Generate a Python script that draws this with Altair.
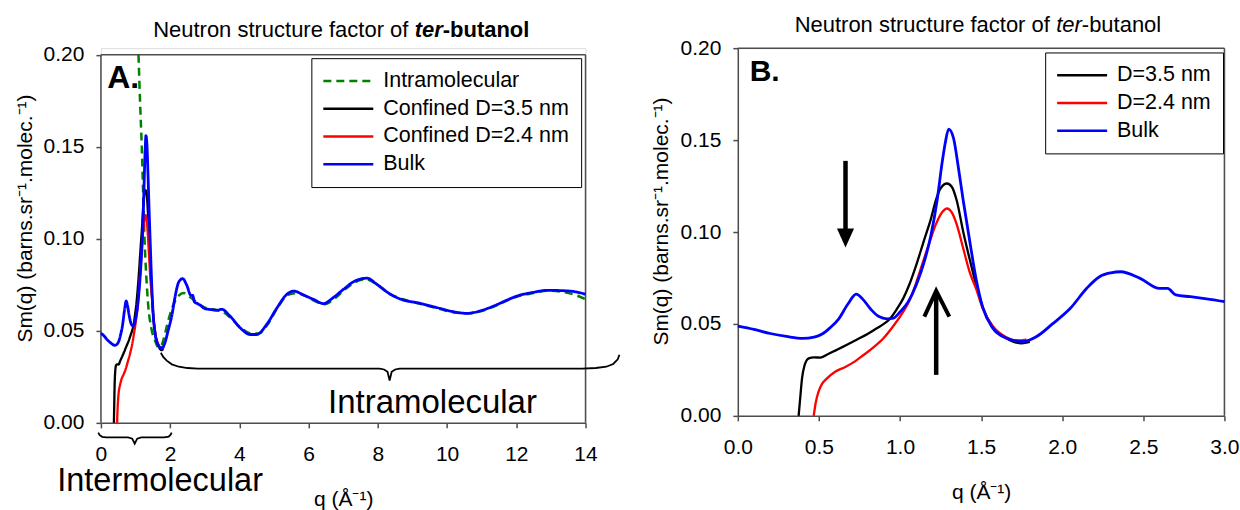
import altair as alt
import pandas as pd

FONT = "Liberation Sans"
AX = "#4d4d4d"

# ---------------- data (q in 1/Angstrom, Sm(q)) ----------------
bulk = [(0.00, 0.0488), (0.10, 0.0470), (0.20, 0.0448), (0.30, 0.0432), (0.40, 0.0421),
        (0.47, 0.0428), (0.52, 0.0445), (0.57, 0.0480), (0.62, 0.0525), (0.68, 0.0610),
        (0.73, 0.0662), (0.77, 0.0635), (0.82, 0.0580), (0.87, 0.0540), (0.92, 0.0528),
        (0.96, 0.0532), (1.00, 0.0565), (1.05, 0.0620), (1.10, 0.0712), (1.15, 0.0840),
        (1.19, 0.0980), (1.23, 0.1180), (1.26, 0.1380), (1.28, 0.1490), (1.30, 0.1560),
        (1.33, 0.1510), (1.36, 0.1350), (1.39, 0.1170), (1.43, 0.0950), (1.47, 0.0740),
        (1.51, 0.0590), (1.57, 0.0480), (1.65, 0.0425), (1.76, 0.0404), (1.84, 0.0430),
        (1.94, 0.0500), (2.05, 0.0585), (2.15, 0.0693), (2.23, 0.0757), (2.30, 0.0778),
        (2.36, 0.0784), (2.48, 0.0748), (2.60, 0.0693), (2.65, 0.0693), (2.70, 0.0658),
        (2.79, 0.0648), (2.89, 0.0636), (3.00, 0.0621), (3.20, 0.0615), (3.35, 0.0611),
        (3.49, 0.0617), (3.73, 0.0580), (4.02, 0.0517), (4.31, 0.0480), (4.50, 0.0480),
        (4.79, 0.0535), (5.09, 0.0626), (5.37, 0.0698), (5.58, 0.0716), (5.85, 0.0695),
        (6.14, 0.0671), (6.43, 0.0648), (6.71, 0.0680), (7.01, 0.0726), (7.34, 0.0771),
        (7.69, 0.0786), (7.97, 0.0753), (8.36, 0.0699), (8.74, 0.0667), (9.13, 0.0653),
        (9.80, 0.0622), (10.18, 0.0604), (10.58, 0.0595), (10.95, 0.0608), (11.35, 0.0635),
        (11.72, 0.0666), (12.02, 0.0689), (12.49, 0.0709), (12.89, 0.0720), (13.47, 0.0717),
        (13.74, 0.0711), (14.00, 0.0699)]

intra = [(1.085, 0.200), (1.13, 0.175), (1.18, 0.150), (1.22, 0.125), (1.26, 0.100),
         (1.31, 0.080), (1.37, 0.063), (1.45, 0.052), (1.57, 0.0444), (1.66, 0.0410),
         (1.74, 0.0418), (1.82, 0.0460), (1.91, 0.0530), (2.05, 0.0620), (2.24, 0.0690),
         (2.40, 0.0705), (2.60, 0.0680), (2.80, 0.0650), (3.06, 0.0622), (3.35, 0.0614),
         (3.55, 0.0600), (3.80, 0.0560), (4.05, 0.0515), (4.35, 0.0485), (4.55, 0.0485),
         (4.80, 0.0530), (5.10, 0.0625), (5.40, 0.0695), (5.65, 0.0705), (5.90, 0.0690),
         (6.20, 0.0660), (6.45, 0.0645), (6.75, 0.0675), (7.05, 0.0725), (7.35, 0.0765),
         (7.65, 0.0780), (7.95, 0.0755), (8.35, 0.0700), (8.75, 0.0670), (9.15, 0.0650),
         (9.80, 0.0618), (10.20, 0.0600), (10.60, 0.0595), (10.95, 0.0605), (11.35, 0.0632),
         (11.70, 0.0662), (12.00, 0.0685), (12.50, 0.0705), (12.90, 0.0718), (13.40, 0.0710),
         (13.70, 0.0695), (14.00, 0.0672)]

conf35 = [(0.375, 0.000), (0.385, 0.010), (0.396, 0.0204), (0.41, 0.027), (0.437, 0.0313),
          (0.47, 0.0318), (0.51, 0.0317), (0.56, 0.0338), (0.61, 0.0359), (0.67, 0.0385),
          (0.73, 0.0413), (0.80, 0.0445), (0.86, 0.0478), (0.90, 0.0500), (0.94, 0.0530),
          (0.98, 0.0580), (1.02, 0.0639), (1.06, 0.0720), (1.10, 0.0820), (1.15, 0.0960),
          (1.19, 0.1070), (1.22, 0.1170), (1.25, 0.1237), (1.29, 0.1264), (1.32, 0.1245),
          (1.35, 0.1170), (1.39, 0.1000), (1.43, 0.0850), (1.47, 0.0710), (1.51, 0.0590),
          (1.57, 0.0485), (1.65, 0.0425), (1.75, 0.0395), (1.80, 0.0402)]

conf24 = [(0.468, 0.000), (0.48, 0.007), (0.498, 0.0132), (0.52, 0.0175), (0.55, 0.0204),
          (0.60, 0.0240), (0.66, 0.0265), (0.72, 0.0295), (0.775, 0.0331), (0.84, 0.0375),
          (0.898, 0.0422), (0.96, 0.0490), (1.02, 0.0567), (1.06, 0.0630), (1.10, 0.0725),
          (1.15, 0.0860), (1.19, 0.0965), (1.22, 0.1040), (1.25, 0.1095), (1.29, 0.1128),
          (1.32, 0.1105), (1.35, 0.1040), (1.39, 0.0910), (1.43, 0.0780), (1.47, 0.0690),
          (1.51, 0.0585), (1.57, 0.0490), (1.65, 0.0430), (1.72, 0.0410), (1.78, 0.0415)]

# curly braces of panel A, in data units (q, Sm)
brace_intra = [(1.73, 0.0381), (1.80, 0.0358), (1.90, 0.0338), (2.05, 0.0318), (2.25, 0.0305),
               (2.50, 0.0298), (2.80, 0.0295), (8.05, 0.0295), (8.18, 0.0290), (8.28, 0.0278),
               (8.34, 0.0230), (8.40, 0.0278), (8.50, 0.0290), (8.63, 0.0295), (13.90, 0.0295),
               (14.30, 0.0298), (14.60, 0.0305), (14.80, 0.0320), (14.93, 0.0345), (14.98, 0.0370)]
brace_inter = [(-0.078, -0.0053), (-0.035, -0.0067), (0.038, -0.0076), (0.153, -0.0079),
               (0.788, -0.0079), (0.904, -0.0086), (0.976, -0.0113), (1.048, -0.0086),
               (1.163, -0.0079), (1.827, -0.0079), (1.957, -0.0075), (2.015, -0.0064),
               (2.044, -0.0053)]

# arrows of panel B, in data units
arrow_down_shaft = [(0.664, 0.1387, 0.1000)]
arrow_down_head = [(0.664, 0.0968)]
arrow_up_shaft = [(1.223, 0.0223, 0.0670)]
arrow_up_head = [(1.150, 0.0540), (1.223, 0.0680), (1.304, 0.0540)]

labels_A = ["Intramolecular", "Confined D=3.5 nm", "Confined D=2.4 nm", "Bulk"]
labels_B = ["D=3.5 nm", "D=2.4 nm", "Bulk"]
colors_A = ["#008000", "#000000", "#ff0000", "#0000ff"]
colors_B = ["#000000", "#ff0000", "#0000ff"]
dash_A = [[8, 5], [1, 0], [1, 0], [1, 0]]

ticks_A_x = [0, 2, 4, 6, 8, 10, 12, 14]
ticks_B_x = [0.0, 0.5, 1.0, 1.5, 2.0, 2.5, 3.0]
ticks_y = [0.0, 0.05, 0.10, 0.15, 0.20]


def df(points, label=None):
    d = pd.DataFrame(points, columns=["q", "v"])
    if label is not None:
        d["series"] = label
    return d


WA, HA = 485, 375
WB, HB = 487, 368
A_TOP = 6.6  # panel A's 0.20 line sits lower than panel B's

axis_common = dict(grid=False, domainColor=AX, domainWidth=1.5, tickColor=AX, tickWidth=1.5,
                   tickSize=5, labelFont=FONT, labelFontSize=21, labelColor="black",
                   titleFont=FONT, titleFontSize=21, titleFontWeight="normal",
                   titleColor="black", labelFlush=False, labelOverlap=False)
YTITLE = "Sm(q) (barns.sr⁻¹.molec.⁻¹)"
XTITLE = "q (Å⁻¹)"

xA = alt.X("q:Q", scale=alt.Scale(domain=[0, 14], nice=False, zero=False),
           axis=alt.Axis(values=ticks_A_x, format="d", title=XTITLE, labelPadding=16,
                         titlePadding=24, **axis_common))
yA = alt.Y("v:Q", scale=alt.Scale(domain=[0, 0.2], nice=False, zero=False, range=[HA, A_TOP]),
           axis=alt.Axis(values=ticks_y, format=".2f", title=YTITLE, domain=False,
                         labelPadding=12, titlePadding=8, titleY=170, **axis_common))
xB = alt.X("q:Q", scale=alt.Scale(domain=[0, 3], nice=False, zero=False),
           axis=alt.Axis(values=ticks_B_x, format=".1f", title=XTITLE, labelPadding=16,
                         titlePadding=24, **axis_common))
yB = alt.Y("v:Q", scale=alt.Scale(domain=[0, 0.2], nice=False, zero=False),
           axis=alt.Axis(values=ticks_y, format=".2f", title=YTITLE,
                         labelPadding=12, titlePadding=8, titleY=173, **axis_common))


def legend(x, y):
    return alt.Legend(title=None, orient="none", legendX=x, legendY=y, direction="vertical",
                      fillColor="white", strokeColor="black", padding=12,
                      labelFont=FONT, labelFontSize=21.5, labelColor="black", labelLimit=600,
                      symbolType="M-5,0H5", symbolSize=100, symbolStrokeWidth=2.5,
                      symbolOffset=14.25, labelOffset=24.2, rowPadding=4.8)


legA = legend(210.6, 10)
legB = legend(307.6, 4.3)

colA = alt.Color("series:N", scale=alt.Scale(domain=labels_A, range=colors_A), legend=legA)
dashA = alt.StrokeDash("series:N", scale=alt.Scale(domain=labels_A, range=dash_A), legend=legA)
colB = alt.Color("series:N", scale=alt.Scale(domain=labels_B, range=colors_B), legend=legB)


def txt(s, x, y, size, weight="normal", style="normal", align="left"):
    return alt.Chart(pd.DataFrame({"t": [s]})).mark_text(
        align=align, baseline="alphabetic", font=FONT, fontSize=size,
        fontWeight=weight, fontStyle=style, color="black"
    ).encode(x=alt.value(x), y=alt.value(y), text="t:N")


# ---------------- panel A ----------------
frameA = pd.DataFrame({"q": [0, 0, 14], "q2": [14, 0, 14],
                       "v": [0.2, 0, 0], "v2": [0.2, 0.2, 0.2]})
layersA = [
    alt.Chart(frameA).mark_rule(color=AX, strokeWidth=1.5).encode(
        x=xA, x2="q2:Q", y=yA, y2="v2:Q"),
]
for pts, lab, w in [(intra, labels_A[0], 2.5), (conf35, labels_A[1], 2.3),
                    (conf24, labels_A[2], 2.3), (bulk, labels_A[3], 2.8)]:
    layersA.append(alt.Chart(df(pts, lab)).mark_line(strokeWidth=w, interpolate="monotone")
                   .encode(x=xA, y=yA, color=colA, strokeDash=dashA))
layersA += [
    alt.Chart(df(brace_intra)).mark_line(color="black", strokeWidth=1.8).encode(x=xA, y=yA),
    alt.Chart(df(brace_inter)).mark_line(color="black", strokeWidth=1.8).encode(x=xA, y=yA),
    txt("Neutron structure factor of ", 52.3, -10.7, 22),
    txt("ter", 314.0, -10.7, 22, weight="bold", style="italic"),
    txt("-butanol", 342.1, -10.7, 22, weight="bold"),
    txt("A.", 6.3, 40, 32, weight="bold"),
    txt("Intramolecular", 227.3, 365, 33),
    txt("Intermolecular", -43.7, 443.3, 32.5),
]
chartA = alt.layer(*layersA).properties(width=WA, height=HA)

# ---------------- panel B ----------------
frameB = pd.DataFrame({"q": [0, 3], "q2": [3, 3], "v": [0.2, 0], "v2": [0.2, 0.2]})
layersB = [
    alt.Chart(frameB).mark_rule(color=AX, strokeWidth=1.5).encode(
        x=xB, x2="q2:Q", y=yB, y2="v2:Q"),
]
bulkB = [p for p in bulk if p[0] <= 3.0]
for pts, lab, w in [(conf35, labels_B[0], 2.3), (conf24, labels_B[1], 2.3),
                    (bulkB, labels_B[2], 2.8)]:
    layersB.append(alt.Chart(df(pts, lab)).mark_line(strokeWidth=w, interpolate="monotone")
                   .encode(x=xB, y=yB, color=colB))
layersB += [
    alt.Chart(pd.DataFrame(arrow_down_shaft, columns=["q", "v", "v2"])).mark_rule(
        color="black", strokeWidth=4.5).encode(x=xB, y=yB, y2="v2:Q"),
    alt.Chart(df(arrow_down_head)).mark_point(
        shape="M-0.9,-1L0.9,-1L0,1Z", size=361, filled=True, color="black", opacity=1
    ).encode(x=xB, y=yB),
    alt.Chart(pd.DataFrame(arrow_up_shaft, columns=["q", "v", "v2"])).mark_rule(
        color="black", strokeWidth=4.5).encode(x=xB, y=yB, y2="v2:Q"),
    alt.Chart(df(arrow_up_head)).mark_line(color="black", strokeWidth=4).encode(x=xB, y=yB),
    txt("Neutron structure factor of ", 56.9, -16, 22),
    txt("ter", 318.6, -16, 22, style="italic"),
    txt("-butanol", 344.3, -16, 22),
    txt("B.", 11.9, 33.3, 30, weight="bold"),
]
chartB = alt.layer(*layersB).properties(width=WB, height=HB)

chart = (
    alt.hconcat(chartA, chartB, spacing=152.4, bounds="flush")
    .resolve_scale(color="independent", strokeDash="independent")
    .resolve_legend(color="independent", strokeDash="independent")
    .properties(padding={"left": 13, "top": 13, "right": 0, "bottom": 0}, background="white")
    .configure_view(strokeWidth=0)
    .configure(font=FONT)
)

chart.save("out.html", embed_options={"renderer": "svg", "actions": False})
